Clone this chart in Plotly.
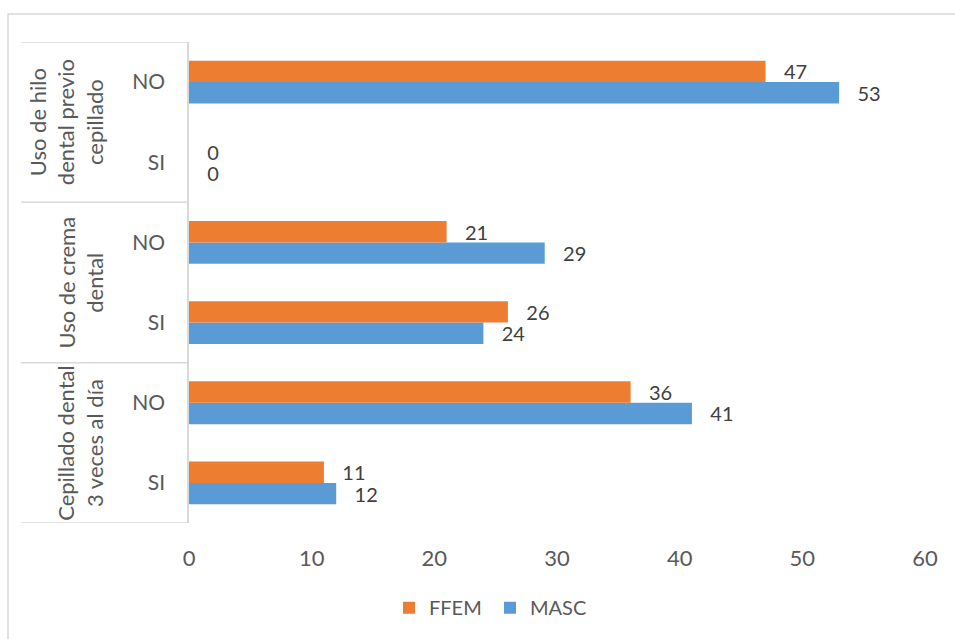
import plotly.graph_objects as go

groups = ["Cepillado dental<br>3 veces al día", "Uso de crema<br>dental", "Uso de hilo<br>dental previo<br>cepillado"]
subs = ["SI", "NO"]
ffem = [11, 36, 26, 21, 0, 47]
masc = [12, 41, 24, 29, 0, 53]
x_ticks = [0, 10, 20, 30, 40, 50, 60]

cat_ids = [f"{g}|{s}" for g in groups for s in subs]
sub_labels = [s for g in groups for s in subs]

W, H = 955, 639
L, R, T, B = 189, 30, 42, 114
pw, ph = W - L - R, H - T - B

def px(x):
    return (x - L) / pw

def py(y):
    return (H - B - y) / ph

FONT = "Lato"
GRAY = "#595959"
LINE = "#d9d9d9"
FS = 22

fig = go.Figure()
fig.add_trace(go.Bar(
    y=cat_ids, x=masc, name="MASC", orientation="h",
    marker=dict(color="#5B9BD5", line=dict(width=0)),
    texttemplate="   %{x}", textposition="outside", constraintext="none",
    textfont=dict(family=FONT, size=20, color="#404040"),
    cliponaxis=False, legendrank=2,
))
fig.add_trace(go.Bar(
    y=cat_ids, x=ffem, name="FFEM", orientation="h",
    marker=dict(color="#ED7D31", line=dict(width=0)),
    texttemplate="   %{x}", textposition="outside", constraintext="none",
    textfont=dict(family=FONT, size=20, color="#404040"),
    cliponaxis=False, legendrank=1,
))

shapes = []
# outer chart border (extends past the window on right/bottom)
shapes.append(dict(type="rect", xref="paper", yref="paper",
                   x0=px(8), x1=px(970), y0=py(650), y1=py(14),
                   line=dict(color=LINE, width=1.5), layer="below"))
# category table dividers
n = len(cat_ids)
for k in range(0, n + 1, 2):
    shapes.append(dict(type="line", xref="paper", yref="y",
                       x0=px(21), x1=0, y0=k - 0.5, y1=k - 0.5,
                       line=dict(color=LINE, width=1.5)))

annotations = []
for i, g in enumerate(groups):
    annotations.append(dict(
        text=g, xref="paper", yref="y", x=px(110), y=2 * i + 0.5,
        xanchor="right", yanchor="middle", textangle=-90, showarrow=False,
        font=dict(family=FONT, size=FS, color=GRAY), align="center",
    ))

fig.update_layout(
    width=W, height=H, autosize=False,
    margin=dict(l=L, r=R, t=T, b=B),
    paper_bgcolor="white", plot_bgcolor="white",
    barmode="group", bargap=0.466, bargroupgap=0,
    font=dict(family=FONT, size=FS, color=GRAY),
    shapes=shapes, annotations=annotations,
    legend=dict(orientation="h", x=px(490), xanchor="center",
                y=py(610), yanchor="middle",
                font=dict(family=FONT, size=20, color=GRAY),
                itemwidth=30, entrywidth=56),
    showlegend=True,
)
fig.update_xaxes(range=[0, 60], tickvals=x_ticks, showgrid=False, zeroline=False,
                 showline=False, ticks="", ticklabelstandoff=20,
                 tickfont=dict(family=FONT, size=FS, color=GRAY))
fig.update_yaxes(type="category", categoryorder="array", categoryarray=cat_ids,
                 tickvals=cat_ids, ticktext=sub_labels, range=[-0.5, n - 0.5],
                 showgrid=False, zeroline=False, showline=True,
                 linecolor=LINE, linewidth=1.5, ticks="", ticklabelstandoff=18,
                 tickfont=dict(family=FONT, size=21, color=GRAY))

fig.write_html(
    "out.html",
    config={"displayModeBar": False},
    post_script="document.body.style.margin='0';document.body.style.overflow='hidden';",
)
